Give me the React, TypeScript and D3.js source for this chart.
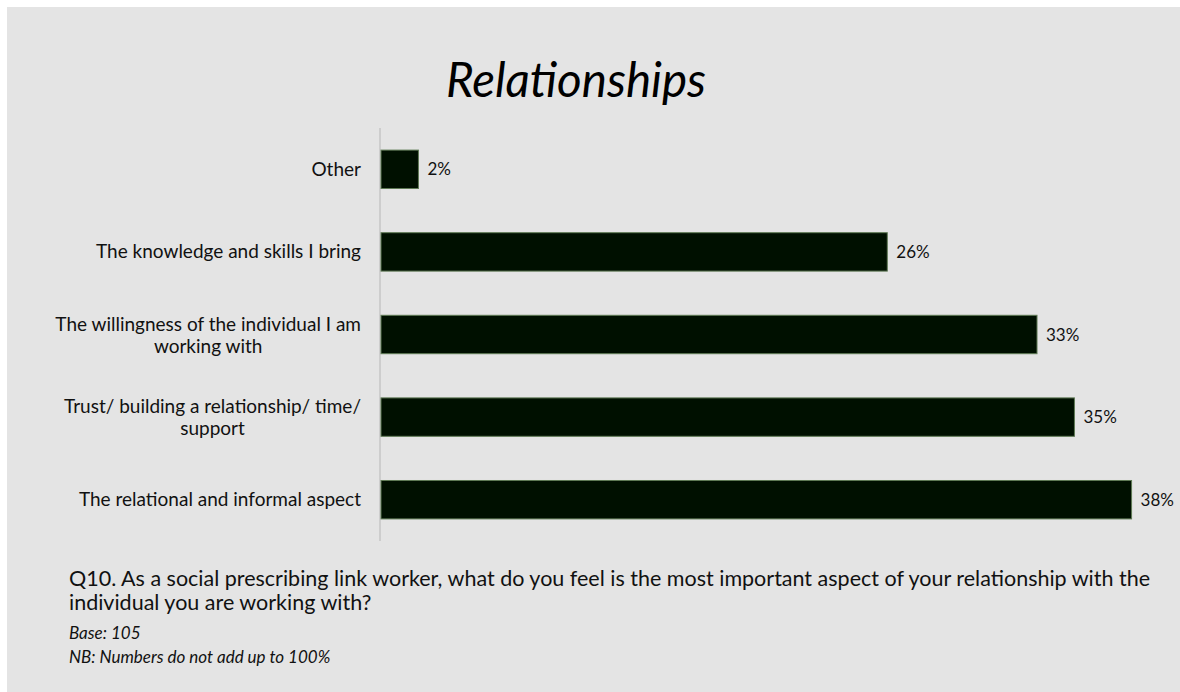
import React from "react";
import * as d3 from "d3";

const categories: string[][] = [
  ["Other"],
  ["The knowledge and skills I bring"],
  ["The willingness of the individual I am", "working with"],
  ["Trust/ building a relationship/ time/", "support"],
  ["The relational and informal aspect"],
];
const values: number[] = [1.9, 25.7, 33.3, 35.2, 38.1];
const title = "Relationships";
const questionLines = [
  "Q10. As a social prescribing link worker, what do you feel is the most important aspect of your relationship with the",
  "individual you are working with?",
];
const baseNote = "Base: 105";
const nbNote = "NB: Numbers do not add up to 100%";

const W = 1180;
const H = 692;
const FONT = "Lato, 'Open Sans', sans-serif";

export default function App() {
  const keys = categories.map((_, i) => String(i));
  const y = d3.scaleBand<string>().domain(keys).range([128, 541]).paddingInner(0.535).paddingOuter(0.2675);
  const x = d3.scaleLinear().domain([0, 40]).range([381, 1169]);
  const fmt = (v: number) => `${Math.round(v)}%`;
  const labelRight = 361;

  return (
    <svg width={W} height={H} style={{ position: "absolute", left: 0, top: 0, display: "block" }}>
      <rect x={0} y={0} width={W} height={H} fill="#ffffff" />
      <rect x={7} y={7} width={W - 7} height={H - 7} fill="#e4e4e4" />
      <text x={576} y={97} textAnchor="middle" fontFamily={FONT} fontStyle="italic" fontSize={47.5} fill="#000">
        {title}
      </text>
      <line x1={380} x2={380} y1={128} y2={541} stroke="#c6c6c6" strokeWidth={1.5} />
      {values.map((v, i) => {
        const yy = y(String(i))!;
        const bw = y.bandwidth();
        const cy = yy + bw / 2;
        const lines = categories[i];
        const lh = 22;
        return (
          <g key={i}>
            <rect x={x(0)} y={yy} width={x(v) - x(0)} height={bw} fill="#001000" stroke="#5f7a55" strokeWidth={1} />
            <text x={x(v) + 9} y={cy + 6} fontFamily={FONT} fontSize={17} fill="#111">
              {fmt(v)}
            </text>
            {lines.length === 1 ? (
              <text x={labelRight} y={cy + 6.5} textAnchor="end" fontFamily={FONT} fontSize={19} fill="#111">
                {lines[0]}
              </text>
            ) : (
              <MultiLabel lines={lines} right={labelRight} cy={cy} lh={lh} />
            )}
          </g>
        );
      })}
      <text x={69} y={586} fontFamily={FONT} fontSize={21.5} fill="#111">
        {questionLines[0]}
      </text>
      <text x={69} y={610} fontFamily={FONT} fontSize={21.5} fill="#111">
        {questionLines[1]}
      </text>
      <text x={69} y={639} fontFamily={FONT} fontSize={17} fontStyle="italic" fill="#111">
        {baseNote}
      </text>
      <text x={69} y={663} fontFamily={FONT} fontSize={17} fontStyle="italic" fill="#111">
        {nbNote}
      </text>
    </svg>
  );
}

function MultiLabel({ lines, right, cy, lh }: { lines: string[]; right: number; cy: number; lh: number }) {
  const ref = React.useRef<SVGGElement>(null);
  const [w, setW] = React.useState(0);
  React.useLayoutEffect(() => {
    if (ref.current) {
      const texts = ref.current.querySelectorAll("text");
      let m = 0;
      texts.forEach((t) => (m = Math.max(m, (t as SVGTextElement).getComputedTextLength())));
      setW(m);
    }
  }, []);
  const cx = right - w / 2;
  const startY = cy - ((lines.length - 1) * lh) / 2 + 7;
  return (
    <g ref={ref}>
      {lines.map((l, j) => (
        <text key={j} x={cx} y={startY + j * lh} textAnchor="middle" fontFamily={FONT} fontSize={19} fill="#111">
          {l}
        </text>
      ))}
    </g>
  );
}
